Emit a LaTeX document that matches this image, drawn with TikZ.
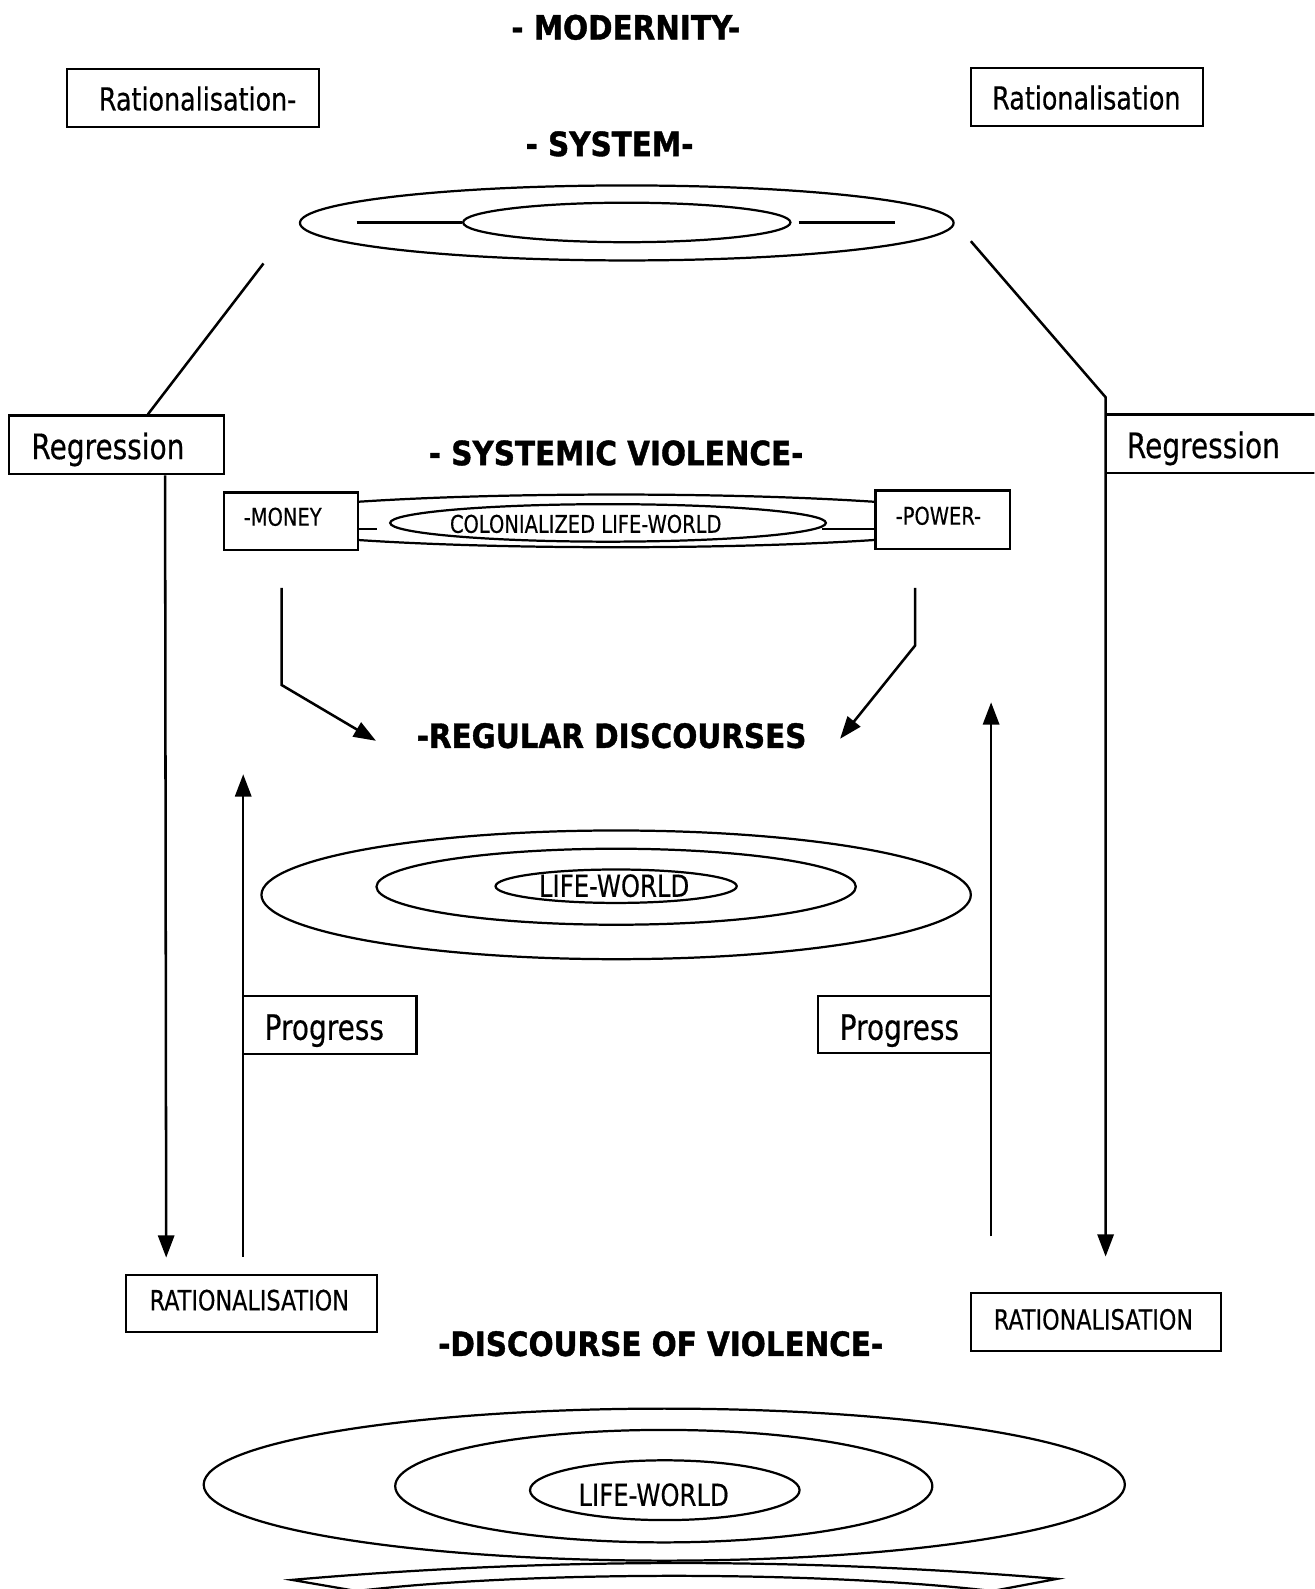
\documentclass[tikz,border=0pt]{standalone}
\usepackage{fontspec}
\newfontfamily\plainfont{DejaVu Sans}[FakeStretch=0.80,FakeBold=0.4]
\newfontfamily\headfont{DejaVu Sans}[FakeStretch=0.88,BoldFeatures={FakeBold=1.2}]
\usetikzlibrary{arrows.meta,shapes.geometric}

\tikzset{
  frame/.style={draw, line width=2.2pt, fill=white, inner sep=0pt},
  ring/.style={draw, ellipse, line width=2.2pt, inner sep=0pt},
  link/.style={line width=2.5pt},
  arr/.style={link, -{Triangle[length=22pt,width=16pt]}},
  head/.style={font=\headfont\bfseries\fontsize{33}{36}\selectfont, inner sep=0pt},
  txt/.style={font=\plainfont\fontsize{#1}{#1}\selectfont, inner sep=0pt},
}

\begin{document}
\begin{tikzpicture}[x=1pt, y=-1pt]
  \fill[white] (0,0) rectangle (1297,1568);
  \clip (0,0) rectangle (1297,1568);

  % ---- titles ----
  \node[head] (tModern) at (617.5,27) {- MODERNITY-};
  \node[head] (tSystem) at (601.5,142) {- SYSTEM-};
  \node[head] (tSysViol) at (608,447) {- SYSTEMIC VIOLENCE-};
  \node[head] (tRegular) at (603.5,726) {-REGULAR DISCOURSES};
  \node[head] (tDiscViol) at (652,1326) {-DISCOURSE OF VIOLENCE-};

  % ---- system rings ----
  \node[ring, minimum width=645pt, minimum height=74pt] (sysOut) at (618.5,220) {};
  \node[ring, minimum width=323pt, minimum height=39pt] (sysIn) at (618.5,219.5) {};
  \coordinate (sysLa) at (352,219.5);
  \coordinate (sysRa) at (788,219.5);
  \coordinate (sysRb) at (883,219.5);
  \draw[link] (sysLa) -- (sysIn.west);
  \draw[link] (sysRa) -- (sysRb);

  % ---- colonized life-world rings ----
  \node[ring, minimum width=740pt, minimum height=52pt] (colOut) at (608,514) {};
  \node[ring, minimum width=430pt, minimum height=37pt] (colIn) at (600,516) {};

  % ---- life-world rings (middle) ----
  \node[ring, minimum width=700pt, minimum height=127pt] (lwOut) at (608,883) {};
  \node[ring, minimum width=473pt, minimum height=75pt] (lwMid) at (608,875) {};
  \node[ring, minimum width=238pt, minimum height=33pt] (lwIn) at (608,874.5) {};

  % ---- life-world rings (bottom) ----
  \node[ring, minimum width=909pt, minimum height=150pt] (blOut) at (655.5,1465) {};
  \node[ring, minimum width=530pt, minimum height=111pt] (blMid) at (655,1466.5) {};
  \node[ring, minimum width=266pt, minimum height=59pt] (blIn) at (656,1470.5) {};

  % ---- band under the bottom rings ----
  \coordinate (bandL) at (288,1559);
  \coordinate (bandR) at (1043,1558);
  \coordinate (bandLb) at (352,1570);
  \coordinate (bandRb) at (979,1570);
  \draw[line width=2.2pt, line join=miter]
    (bandLb) -- (bandL) .. controls (540,1537) and (790,1537) .. (bandR) -- (bandRb);
  \draw[line width=2.2pt]
    (bandLb) .. controls (520,1550) and (810,1550) .. (bandRb);

  % ---- boxes ----
  \node[frame, minimum width=249pt, minimum height=57pt] (ratL) at (190.5,96.5) {};
  \node[frame, minimum width=229pt, minimum height=57pt] (ratR) at (1072.5,95.5) {};
  \node[frame, minimum width=212pt, minimum height=58pt] (regL) at (115,439) {};
  \node[frame, minimum width=132pt, minimum height=57pt] (money) at (287,514.5) {};
  \node[frame, minimum width=133pt, minimum height=58pt] (power) at (930.5,513) {};

  % ---- connectors ----
  \coordinate (sysL) at (260,260);
  \coordinate (sysR) at (958,238);
  \coordinate (bendR) at (1091,392);
  \coordinate (endR) at (1091,1240);
  \coordinate (endL) at (164,1241);
  \coordinate (upLs) at (240,1240);
  \coordinate (upLe) at (240,764);
  \coordinate (upRs) at (978,1220);
  \coordinate (upRe) at (978,693);
  \coordinate (mA) at (278,580);
  \coordinate (mB) at (278,676);
  \coordinate (mC) at (371,731);
  \coordinate (pA) at (903,580);
  \coordinate (pB) at (903,637);
  \coordinate (pC) at (829,729);

  \draw[link] (sysL) -- ([xshift=138pt]regL.north west);
  \draw[arr] (sysR) -- (bendR) -- (endR);
  \draw[arr] ([xshift=155pt]regL.south west) -- (endL);
  \draw[arr] (upLs) -- (upLe);
  \draw[arr] (upRs) -- (upRe);
  \draw[arr, line join=miter] (mA) -- (mB) -- (mC);
  \draw[arr, line join=miter] (pA) -- (pB) -- (pC);

  % short ticks beside the colonized ring
  \coordinate (tickL) at (372,522);
  \coordinate (tickRa) at (811,522);
  \draw[link] ([yshift=-7.5pt]money.east) -- (tickL);
  \draw[link] (tickRa) -- ([yshift=-9pt]power.west);

  % ---- remaining boxes ----
  \node[frame, minimum width=230pt, minimum height=58pt] (regR) at (1206,438) {};
  \node[frame, minimum width=171pt, minimum height=57pt] (progL) at (325.5,1011.5) {};
  \node[frame, minimum width=171pt, minimum height=56pt] (progR) at (892.5,1011) {};
  \node[frame, minimum width=248pt, minimum height=56pt] (ratioL) at (248,1286) {};
  \node[frame, minimum width=247pt, minimum height=57pt] (ratioR) at (1081.5,1304.5) {};

  % ---- texts ----
  \node[txt=31.3, anchor=base] (ratLt) at (195,109) {Rationalisation-};
  \node[txt=31.3, anchor=base] (ratRt) at (1072,108) {Rationalisation};
  \node[txt=34.5, anchor=base] (regLt) at (106.5,453) {Regression};
  \node[txt=34.5, anchor=base] (regRt) at (1187.5,452) {Regression};
  \node[txt=24] (moneyt) at (279,510) {-MONEY};
  \node[txt=24] (powert) at (926,509) {-POWER-};
  \node[txt=24] (colt) at (578,517) {COLONIALIZED LIFE-WORLD};
  \node[txt=30] (lwt) at (606,874) {LIFE-WORLD};
  \node[txt=34.5, anchor=base] (progLt) at (320,1026) {Progress};
  \node[txt=34.5, anchor=base] (progRt) at (887.5,1026) {Progress};
  \node[txt=27.5] (ratioLt) at (246,1283) {RATIONALISATION};
  \node[txt=27.5] (ratioRt) at (1079,1302) {RATIONALISATION};
  \node[txt=30] (blt) at (645,1475) {LIFE-WORLD};
\end{tikzpicture}
\end{document}
